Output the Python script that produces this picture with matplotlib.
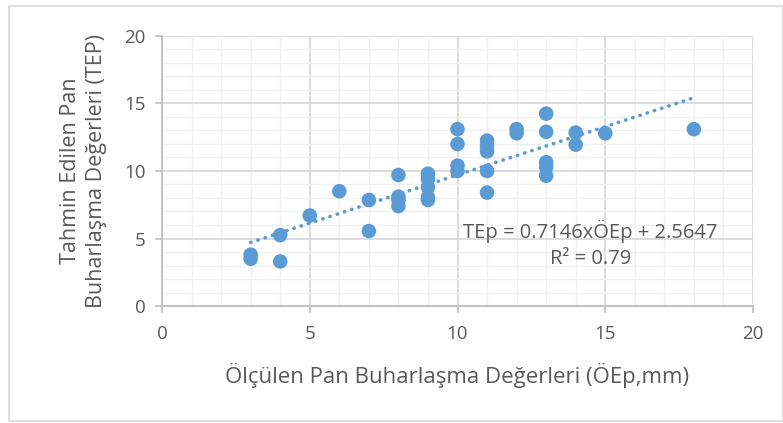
import numpy as np
import matplotlib.pyplot as plt
from matplotlib.patches import Rectangle

# measured (x) vs predicted (y) pan evaporation
olculen = [3, 3, 4, 4, 5, 6, 7, 7,
           8, 8, 8, 8,
           9, 9, 9, 9, 9,
           10, 10, 10, 10,
           11, 11, 11, 11, 11,
           12, 12,
           13, 13, 13, 13, 13,
           14, 14, 15, 18]
tahmin = [3.8, 3.5, 5.25, 3.3, 6.7, 8.5, 7.85, 5.55,
          9.7, 8.1, 7.85, 7.4,
          9.8, 9.4, 8.8, 8.05, 7.85,
          13.1, 12.0, 10.4, 10.0,
          12.25, 11.85, 11.45, 10.0, 8.4,
          13.1, 12.8,
          14.25, 12.9, 10.65, 10.3, 9.65,
          12.85, 11.95, 12.8, 13.1]

egim = 0.7146
kesisim = 2.5647
r2 = 0.79

mavi = '#5b9bd5'
gri = '#595959'
plt.rcParams['font.family'] = ['Open Sans', 'DejaVu Sans']

fig = plt.figure(figsize=(7.83, 4.23), dpi=100)
ax = fig.add_axes([162/783, 1 - 306/423, (753 - 162)/783, (306 - 36)/423])

ax.set_xlim(0, 20)
ax.set_ylim(0, 20)
ax.set_xticks(np.arange(0, 21, 5))
ax.set_yticks(np.arange(0, 21, 5))
ax.set_xticks(np.arange(0, 21, 1), minor=True)
ax.set_yticks(np.arange(0, 21, 1), minor=True)
ax.grid(which='major', color='#d9d9d9', lw=1.3, zorder=0)
ax.grid(which='minor', color='#f0f0f0', lw=1.0, zorder=0)
ax.set_axisbelow(True)

for s in ['top', 'right']:
    ax.spines[s].set_visible(False)
for s in ['left', 'bottom']:
    ax.spines[s].set_color('#bfbfbf')
    ax.spines[s].set_linewidth(1.3)
ax.tick_params(which='major', length=5, color='#bfbfbf', width=1.2,
               labelsize=13.5, labelcolor=gri)
ax.tick_params(axis='x', which='major', pad=9)
ax.tick_params(axis='y', which='major', pad=7)
ax.tick_params(which='minor', length=0)

ax.scatter(olculen, tahmin, s=110, color=mavi, edgecolors='none', zorder=3)

xt = np.array([min(olculen), max(olculen)])
ax.plot(xt, egim * xt + kesisim, color=mavi, lw=2.6, ls=(0, (0.1, 2.0)),
        dash_capstyle='round', zorder=2)

ax.text(14.5, 5.5, f'TEp = {egim}xÖEp + {kesisim}', ha='center', va='center',
        fontsize=14.5, color=gri)
ax.text(14.5, 3.5, f'R² = {r2}', ha='center', va='center',
        fontsize=14.5, color=gri)

ax.set_xlabel('Ölçülen Pan Buharlaşma Değerleri (ÖEp,mm)', fontsize=16,
              color=gri, labelpad=14)
ax.set_ylabel('Tahmin Edilen Pan\nBuharlaşma Değerleri (TEP)', fontsize=15.5,
              color=gri, labelpad=12, linespacing=1.35)

fig.patches.append(Rectangle((9/783, 2/423), 1 - 9/783, 1 - 8/423,
                             transform=fig.transFigure, fill=False,
                             edgecolor='#d9d9d9', lw=1.2))

fig.savefig('out.png', dpi=100)
